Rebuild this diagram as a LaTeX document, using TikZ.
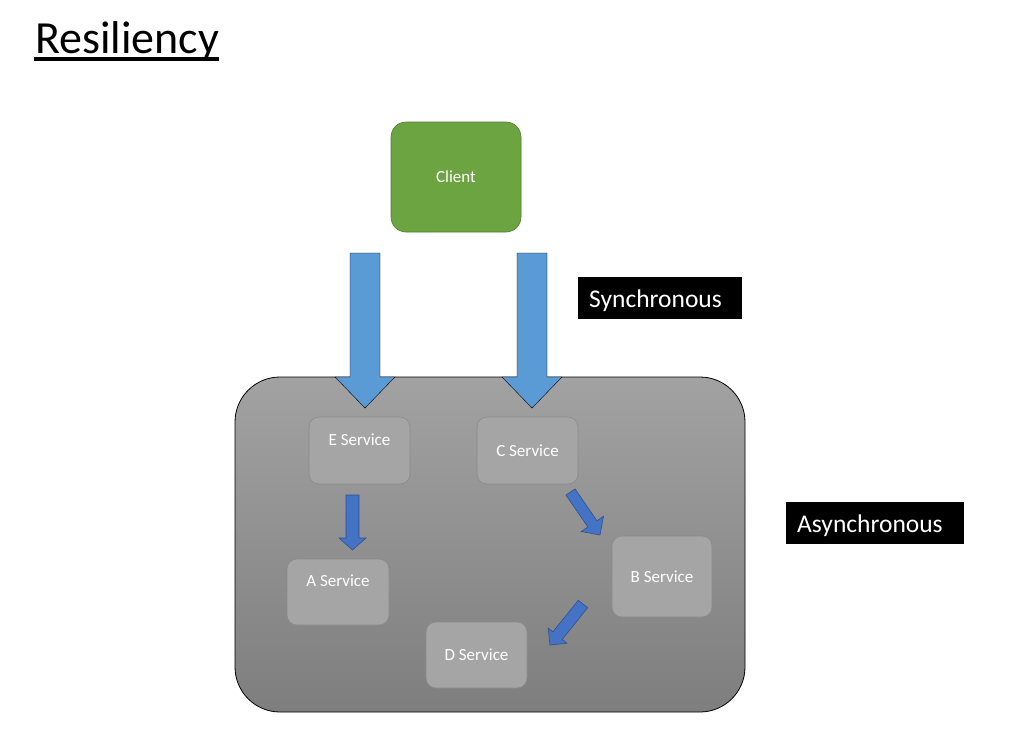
\documentclass[tikz,border=0pt]{standalone}
\usepackage{fontspec}
\setmainfont{Carlito}
\usetikzlibrary{calc}

\definecolor{clientgreen}{RGB}{108,164,66}
\definecolor{clientedge}{RGB}{80,126,50}
\definecolor{clustertop}{RGB}{162,162,162}
\definecolor{clusterbot}{RGB}{126,126,126}
\definecolor{svcfill}{RGB}{165,165,165}
\definecolor{svcedge}{RGB}{138,138,138}
\definecolor{syncblue}{RGB}{91,155,213}
\definecolor{asyncblue}{RGB}{68,114,196}
\definecolor{asyncedge}{RGB}{47,82,143}

% block arrow: style, tail, tip, shaft half width, head half width, head length
\newcommand{\blockarrow}[6]{%
  \coordinate (ahb) at ($(#3)!#6!(#2)$);
  \draw[#1] ($(#2)!#4!90:(#3)$) -- ($(ahb)!#4!90:(#3)$) -- ($(ahb)!#5!90:(#3)$)
    -- (#3) -- ($(ahb)!#5!-90:(#3)$) -- ($(ahb)!#4!-90:(#3)$) -- ($(#2)!#4!-90:(#3)$)
    -- cycle;
}

\begin{document}
\begin{tikzpicture}[
  x=1pt, y=-1pt,
  client/.style={draw=clientedge, fill=clientgreen, line width=0.6pt, rounded corners=15pt,
                 minimum width=130pt, minimum height=110pt, text=white,
                 font=\fontsize{17}{20}\selectfont},
  cluster/.style={draw=black, line width=0.8pt, rounded corners=45pt,
                  minimum width=510pt, minimum height=335pt,
                  top color=clustertop, bottom color=clusterbot},
  svc/.style={draw=svcedge, fill=svcfill, line width=0.6pt, rounded corners=10pt,
              minimum width=101pt, minimum height=67pt, inner sep=0pt, text=white,
              font=\fontsize{17}{20}\selectfont, text height=11pt, text depth=0pt},
  svctop/.style={svc, text depth=22pt},
  tag/.style={fill=black, text=white, font=\fontsize{25.5}{30}\selectfont, align=left,
              inner xsep=11pt, inner ysep=4pt, text height=26pt, text depth=8pt,
              anchor=north west},
  sync/.style={fill=syncblue},
  async/.style={fill=asyncblue, draw=asyncedge, line width=0.6pt, line join=miter},
]

\path[use as bounding box, fill=white] (0,0) rectangle (1013,755);

% ---------------- title ----------------
\node[anchor=base west, inner sep=0pt, font=\fontsize{46}{55}\selectfont] (title) at (35,53)
  {Resiliency};
\draw[line width=3.5pt] ($(title.base west)+(-1,6)$) -- ($(title.base east)+(0,6)$);

% ---------------- client ----------------
\node[client] (client) at (456,177) {Client};

% ---------------- service cluster ----------------
\node[cluster] (cluster) at (490,544.5) {};

\node[svctop] (esvc) at (359.5,450.5) {E Service};
\node[svc] (csvc) at (527.5,450.5) {C Service};
\node[svctop, minimum width=102pt, minimum height=66pt] (asvc) at (338,592) {A Service};
\node[svc, minimum width=100pt, minimum height=81pt] (bsvc) at (662,576.5) {B Service};
\node[svc, minimum height=66pt] (dsvc) at (476.5,655) {D Service};

% ---------------- synchronous calls ----------------
\coordinate (syncLtail) at (365,253);
\coordinate (syncLtip)  at (365,408);
\coordinate (syncRtail) at (532,253);
\coordinate (syncRtip)  at (532,408);
\blockarrow{sync}{syncLtail}{syncLtip}{15pt}{30pt}{31pt}
\blockarrow{sync}{syncRtail}{syncRtip}{15pt}{30pt}{31pt}

% ---------------- asynchronous calls ----------------
\coordinate (eaTail) at (352.5,495);
\coordinate (eaTip)  at (352.5,550);
\coordinate (cbTail) at (570.5,492);
\coordinate (cbTip)  at (600,535);
\coordinate (bdTail) at (583,604);
\coordinate (bdTip)  at (550,645);
\blockarrow{async}{eaTail}{eaTip}{6.5pt}{13.5pt}{12pt}
\blockarrow{async}{cbTail}{cbTip}{5.5pt}{13.5pt}{13.5pt}
\blockarrow{async}{bdTail}{bdTip}{6pt}{12pt}{12pt}

% ---------------- labels ----------------
\node[tag, text width=142pt] (synctag) at (578,277) {Synchronous};
\node[tag, text width=156pt] (asynctag) at (786,502) {Asynchronous};

\end{tikzpicture}
\end{document}
